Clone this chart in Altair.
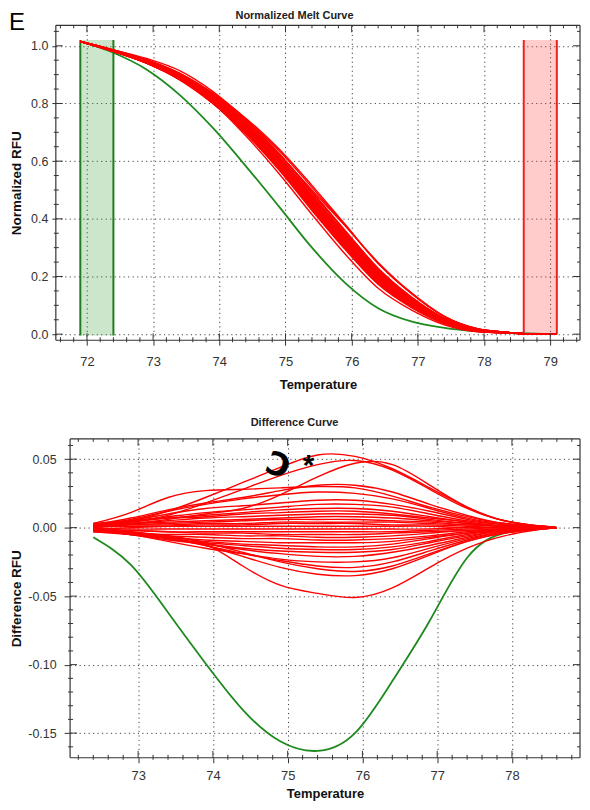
import altair as alt
import pandas as pd

FONT = "Liberation Sans"

# ---------------- values ----------------
# temperatures at which the difference curves were read
diff_temps = [72.4, 72.9, 73.4, 73.9, 74.4, 74.9, 75.4, 75.9, 76.4, 76.9, 77.4, 77.9, 78.4, 78.6]

# reference (red cluster average) normalized RFU at diff_temps
ref_melt = [0.983, 0.945, 0.892, 0.815, 0.716, 0.599, 0.463, 0.329, 0.203, 0.113, 0.047, 0.014, 0.0045, 0.002]
melt_start = [71.9, 1.015]   # all curves start here
melt_end = [79.1, 0.0]       # all curves end here

# green (distinct) sample
green_melt_temps = [71.9, 72.4, 72.9, 73.4, 73.9, 74.4, 74.9, 75.4, 75.9, 76.4, 76.9, 77.4, 77.9, 78.4, 78.9, 79.1]
green_melt = [1.015, 0.976, 0.918, 0.830, 0.716, 0.583, 0.443, 0.300, 0.178, 0.090, 0.044, 0.022, 0.010, 0.004, 0.001, 0.0]
green_diff = [-0.007, -0.027, -0.062, -0.099, -0.133, -0.156, -0.163, -0.150, -0.112, -0.068, -0.022, -0.004, -0.0005, 0.0]

# red samples: difference RFU at diff_temps
diff_red_01 = [0.002, 0.005, 0.012, 0.022, 0.033, 0.044, 0.053, 0.052, 0.043, 0.029, 0.015, 0.005, 0.001, 0.0]
diff_red_02 = [0.001, 0.004, 0.009, 0.018, 0.028, 0.038, 0.046, 0.049, 0.042, 0.028, 0.014, 0.005, 0.001, 0.0]
diff_red_03 = [0.0, 0.003, 0.006, 0.010, 0.014, 0.024, 0.037, 0.047, 0.046, 0.031, 0.015, 0.005, 0.001, 0.0]
diff_red_04 = [0.003, 0.011, 0.022, 0.027, 0.028, 0.029, 0.030, 0.029, 0.023, 0.015, 0.008, 0.003, 0.001, 0.0]
diff_red_05 = [0.002, 0.007, 0.013, 0.018, 0.022, 0.027, 0.031, 0.031, 0.026, 0.017, 0.009, 0.003, 0.001, 0.0]
diff_red_06 = [0.002, 0.006, 0.012, 0.017, 0.021, 0.024, 0.026, 0.025, 0.021, 0.014, 0.007, 0.003, 0.001, 0.0]
diff_red_07 = [0.001, 0.005, 0.010, 0.014, 0.016, 0.018, 0.020, 0.020, 0.017, 0.012, 0.006, 0.002, 0.0, 0.0]
diff_red_08 = [0.002, 0.005, 0.008, 0.011, 0.013, 0.015, 0.017, 0.017, 0.015, 0.010, 0.005, 0.002, 0.0, 0.0]
diff_red_09 = [0.001, 0.004, 0.007, 0.009, 0.011, 0.013, 0.014, 0.014, 0.012, 0.008, 0.004, 0.001, 0.0, 0.0]
diff_red_10 = [0.003, 0.005, 0.007, 0.008, 0.010, 0.011, 0.012, 0.012, 0.010, 0.007, 0.004, 0.001, 0.0, 0.0]
diff_red_11 = [0.001, 0.003, 0.005, 0.007, 0.008, 0.009, 0.010, 0.010, 0.009, 0.006, 0.003, 0.001, 0.0, 0.0]
diff_red_12 = [0.002, 0.003, 0.004, 0.005, 0.006, 0.007, 0.008, 0.008, 0.007, 0.005, 0.003, 0.001, 0.0, 0.0]
diff_red_13 = [0.0, 0.002, 0.003, 0.004, 0.005, 0.006, 0.006, 0.006, 0.005, 0.004, 0.002, 0.001, 0.0, 0.0]
diff_red_14 = [0.001, 0.002, 0.002, 0.003, 0.003, 0.004, 0.004, 0.004, 0.004, 0.003, 0.002, 0.001, 0.0, 0.0]
diff_red_15 = [-0.001, 0.0, 0.001, 0.002, 0.002, 0.003, 0.003, 0.003, 0.002, 0.002, 0.001, 0.0, 0.0, 0.0]
diff_red_16 = [0.001, 0.001, 0.001, 0.001, 0.001, 0.001, 0.001, 0.001, 0.001, 0.001, 0.0, 0.0, 0.0, 0.0]
diff_red_17 = [0.0, -0.001, -0.001, -0.001, -0.001, -0.001, -0.001, -0.001, -0.001, -0.001, 0.0, 0.0, 0.0, 0.0]
diff_red_18 = [-0.002, -0.002, -0.003, -0.003, -0.003, -0.003, -0.003, -0.003, -0.003, -0.002, -0.001, 0.0, 0.0, 0.0]
diff_red_19 = [-0.001, -0.002, -0.003, -0.004, -0.004, -0.005, -0.005, -0.005, -0.004, -0.003, -0.002, -0.001, 0.0, 0.0]
diff_red_20 = [-0.003, -0.004, -0.005, -0.005, -0.006, -0.006, -0.007, -0.007, -0.006, -0.004, -0.002, -0.001, 0.0, 0.0]
diff_red_21 = [-0.002, -0.004, -0.006, -0.007, -0.008, -0.008, -0.009, -0.009, -0.008, -0.006, -0.003, -0.001, 0.0, 0.0]
diff_red_22 = [-0.003, -0.005, -0.007, -0.009, -0.010, -0.011, -0.011, -0.011, -0.010, -0.007, -0.004, -0.001, 0.0, 0.0]
diff_red_23 = [-0.001, -0.004, -0.007, -0.010, -0.012, -0.013, -0.014, -0.014, -0.012, -0.008, -0.004, -0.002, 0.0, 0.0]
diff_red_24 = [-0.002, -0.005, -0.008, -0.011, -0.013, -0.015, -0.016, -0.016, -0.014, -0.010, -0.005, -0.002, 0.0, 0.0]
diff_red_25 = [-0.002, -0.005, -0.009, -0.012, -0.015, -0.017, -0.018, -0.018, -0.016, -0.011, -0.006, -0.002, 0.0, 0.0]
diff_red_26 = [-0.001, -0.004, -0.008, -0.012, -0.016, -0.019, -0.021, -0.021, -0.018, -0.013, -0.007, -0.002, 0.0, 0.0]
diff_red_27 = [-0.002, -0.005, -0.010, -0.015, -0.019, -0.023, -0.025, -0.025, -0.022, -0.015, -0.008, -0.003, -0.001, 0.0]
diff_red_28 = [-0.001, -0.004, -0.008, -0.013, -0.019, -0.024, -0.028, -0.029, -0.025, -0.017, -0.009, -0.003, -0.001, 0.0]
diff_red_29 = [0.0, -0.003, -0.006, -0.011, -0.018, -0.025, -0.030, -0.032, -0.028, -0.019, -0.010, -0.004, -0.001, 0.0]
diff_red_30 = [-0.001, -0.003, -0.007, -0.013, -0.021, -0.029, -0.034, -0.035, -0.030, -0.020, -0.010, -0.004, -0.001, 0.0]
diff_red_31 = [-0.001, -0.004, -0.006, -0.012, -0.028, -0.042, -0.048, -0.051, -0.044, -0.029, -0.015, -0.006, -0.001, 0.0]

red_diffs = [
    diff_red_01, diff_red_02, diff_red_03, diff_red_04, diff_red_05, diff_red_06, diff_red_07, diff_red_08,
    diff_red_09, diff_red_10, diff_red_11, diff_red_12, diff_red_13, diff_red_14, diff_red_15, diff_red_16,
    diff_red_17, diff_red_18, diff_red_19, diff_red_20, diff_red_21, diff_red_22, diff_red_23, diff_red_24,
    diff_red_25, diff_red_26, diff_red_27, diff_red_28, diff_red_29, diff_red_30, diff_red_31,
]

# normalization regions (pre-melt green, post-melt red)
region_kind = ["pre", "post"]
region_start = [71.9, 78.6]
region_end = [72.4, 79.1]
region_low = [-0.005, 0.0]
region_high = [1.02, 1.02]

# axis tick values
top_x_major = [72, 73, 74, 75, 76, 77, 78, 79]
top_y_major = [0.0, 0.2, 0.4, 0.6, 0.8, 1.0]
bot_x_major = [73, 74, 75, 76, 77, 78]
bot_y_major = [-0.15, -0.10, -0.05, 0.0, 0.05]
top_x_minor = [round(71.6 + 0.2 * i, 1) for i in range(40) if i % 5 != 2]
top_y_minor = [round(0.05 * i, 2) for i in range(22) if i % 4 != 0]
bot_x_minor = [round(72.2 + 0.2 * i, 1) for i in range(34) if i % 5 != 4]
bot_y_minor = [round(-0.16 + 0.01 * i, 2) for i in range(23) if i % 5 != 1]

panel_letter = ["E"]
top_title = ["Normalized Melt Curve"]
bot_title = ["Difference Curve"]
mark_loop = ["\u0186"]
mark_star = ["*"]

# ---------------- tables ----------------
top_rows, bot_rows = [], []
for k, d in enumerate(red_diffs):
    top_rows.append({"T": melt_start[0], "v": melt_start[1], "id": k})
    for t, r, x in zip(diff_temps, ref_melt, d):
        top_rows.append({"T": t, "v": r + x, "id": k})
        bot_rows.append({"T": t, "v": x, "id": k})
    top_rows.append({"T": melt_end[0], "v": melt_end[1], "id": k})
top_red_df = pd.DataFrame(top_rows)
bot_red_df = pd.DataFrame(bot_rows)
top_green_df = pd.DataFrame({"T": green_melt_temps, "v": green_melt})
bot_green_df = pd.DataFrame({"T": diff_temps, "v": green_diff})
region_df = pd.DataFrame({"kind": region_kind, "T": region_start, "T2": region_end,
                          "v": region_low, "v2": region_high})
edge_df = pd.DataFrame({"kind": region_kind * 2, "T": region_start + region_end,
                        "v": region_low * 2, "v2": region_high * 2})

RED = "#ff0000"
GREEN = "#1e8a1e"
TICK = "#333333"
FRAME = "#333333"
kind_fill = alt.Scale(domain=["pre", "post"], range=["#2e9a2e", "#ff3030"])
kind_edge = alt.Scale(domain=["pre", "post"], range=["#1e7d1e", "#ee2222"])
ONE = pd.DataFrame({"a": [0]})


def axis_common(**kw):
    base = dict(grid=True, gridDash=[1.2, 3.3], gridColor="#444444", gridWidth=1, domain=False,
                ticks=True, tickColor=TICK, tickWidth=1, labelFont=FONT, labelColor="#333333",
                titleFont=FONT, titleFontWeight="bold", titleColor="#111111", labelFlush=False,
                labelOverlap=False)
    base.update(kw)
    return alt.Axis(**base)


def panel(L, W, H, xdom, ydom, x_axis, y_axis, red_df, green_df, x_major, x_minor, y_major, y_minor,
          inner_major, extras, regions, interp):
    X = alt.X("T:Q", scale=alt.Scale(domain=xdom, range=[L, W], nice=False, zero=False), axis=x_axis)
    Y = alt.Y("v:Q", scale=alt.Scale(domain=ydom, nice=False, zero=False), axis=y_axis)
    layers = []
    if regions:
        layers.append(alt.Chart(region_df).mark_rect(fillOpacity=0.25).encode(
            x=X, x2="T2:Q", y=Y, y2="v2:Q",
            fill=alt.Fill("kind:N", scale=kind_fill, legend=None)))
        layers.append(alt.Chart(edge_df).mark_rule(strokeWidth=2).encode(
            x=X, y=Y, y2="v2:Q", color=alt.Color("kind:N", scale=kind_edge, legend=None)))
    layers.append(alt.Chart(green_df).mark_line(color=GREEN, strokeWidth=1.8, interpolate=interp).encode(x=X, y=Y))
    layers.append(alt.Chart(red_df).mark_line(color=RED, strokeWidth=1.4, interpolate=interp).encode(
        x=X, y=Y, detail="id:N"))
    xM = pd.DataFrame({"T": x_major})
    xm = pd.DataFrame({"T": x_minor})
    yM = pd.DataFrame({"v": y_major})
    ym = pd.DataFrame({"v": y_minor})
    rule = dict(color=TICK, strokeWidth=1)
    frame = dict(color=FRAME, strokeWidth=1.2)
    layers += [
        # plot frame
        alt.Chart(ONE).mark_rule(**frame).encode(x=alt.value(L), y=alt.value(0), y2=alt.value(H)),
        alt.Chart(ONE).mark_rule(**frame).encode(x=alt.value(W), y=alt.value(0), y2=alt.value(H)),
        alt.Chart(ONE).mark_rule(**frame).encode(y=alt.value(0), x=alt.value(L), x2=alt.value(W)),
        alt.Chart(ONE).mark_rule(**frame).encode(y=alt.value(H), x=alt.value(L), x2=alt.value(W)),
        # inward ticks on all four sides, short outward parts for minor ticks
        alt.Chart(xM).mark_rule(**rule).encode(x=X, y=alt.value(H), y2=alt.value(H - inner_major)),
        alt.Chart(xM).mark_rule(**rule).encode(x=X, y=alt.value(0), y2=alt.value(inner_major)),
        alt.Chart(xm).mark_rule(**rule).encode(x=X, y=alt.value(H + 2), y2=alt.value(H - 3)),
        alt.Chart(xm).mark_rule(**rule).encode(x=X, y=alt.value(0), y2=alt.value(3)),
        alt.Chart(yM).mark_rule(**rule).encode(y=Y, x=alt.value(L), x2=alt.value(L + inner_major)),
        alt.Chart(yM).mark_rule(**rule).encode(y=Y, x=alt.value(W), x2=alt.value(W - inner_major)),
        alt.Chart(ym).mark_rule(**rule).encode(y=Y, x=alt.value(L - 2), x2=alt.value(L + 3)),
        alt.Chart(ym).mark_rule(**rule).encode(y=Y, x=alt.value(W), x2=alt.value(W - 3)),
    ]
    layers += extras
    return alt.layer(*layers).properties(width=W, height=H)


def text_layer(values, x, y, **kw):
    return alt.Chart(pd.DataFrame({"s": values})).mark_text(**kw).encode(
        text="s:N", x=alt.value(x), y=alt.value(y))


def anchor(x, y1, y2):
    return alt.Chart(ONE).mark_rule(opacity=0, strokeWidth=0.1).encode(
        x=alt.value(x), x2=alt.value(x), y=alt.value(y1), y2=alt.value(y2))


W = 526          # both panels share the right edge (page must stay inside 590 px)
BL = 14.3        # bottom plot starts further right than the top one

# ---------------- top panel ----------------
TH = 316
top_x_axis = axis_common(values=top_x_major, format="d", title="Temperature", tickSize=5,
                         labelFontSize=13, labelPadding=10, titleFontSize=13, titlePadding=10)
top_y_axis = axis_common(values=top_y_major, format=".1f", title="Normalized RFU", tickSize=4,
                         labelFontSize=12.5, labelPadding=4, titleFontSize=13.5, titlePadding=7)
top_extras = [
    text_layer(panel_letter, -47, 4.5, font=FONT, fontSize=24, align="left", baseline="alphabetic", color="#000000"),
    text_layer(top_title, 239.5, -5.9, font=FONT, fontSize=11, fontWeight="bold", align="center",
               baseline="alphabetic", color="#222222"),
    anchor(-47, -14.7, 371.3),
]
top = panel(0, W, TH, [71.53, 79.45], [-0.021, 1.071], top_x_axis, top_y_axis, top_red_df, top_green_df,
            top_x_major, top_x_minor, top_y_major, top_y_minor, 7, top_extras, True, "monotone")

# ---------------- bottom panel ----------------
BH = 320
minus_fix = "replace(format(datum.value, '.2f'), '\u2212', '-')"
bot_x_axis = axis_common(values=bot_x_major, format="d", title="Temperature", tickSize=5,
                         labelFontSize=13, labelPadding=7, titleFontSize=13, titlePadding=5,
                         titleX=(BL + W) / 2)
bot_y_axis = axis_common(values=bot_y_major, labelExpr=minus_fix, title="Difference RFU", tickSize=6,
                         labelFontSize=12.5, labelPadding=8, titleFontSize=13.5, titlePadding=4.5,
                         offset=-BL)
bot_extras = [
    text_layer(bot_title, 239.5, -12.7, font=FONT, fontSize=11, fontWeight="bold", align="center",
               baseline="alphabetic", color="#222222"),
    text_layer(mark_loop, 223, 27, font="DejaVu Sans", fontSize=32, fontWeight="bold", align="center",
               baseline="middle", angle=20, color="#000000"),
    text_layer(mark_star, 253.5, 35.8, font=FONT, fontSize=30, fontWeight="bold", align="center",
               baseline="alphabetic", color="#000000"),
    anchor(-47, -25.7, 0),
]
bottom = panel(BL, W, BH, [72.09, 78.91], [-0.168, 0.0648], bot_x_axis, bot_y_axis, bot_red_df, bot_green_df,
               bot_x_major, bot_x_minor, bot_y_major, bot_y_minor, 7, bot_extras, False, "natural")

chart = alt.vconcat(top, bottom, spacing=16).properties(
    padding=0, background="white"
).configure_view(stroke="transparent")

chart.save("out.html", embed_options={"renderer": "svg", "actions": False})
